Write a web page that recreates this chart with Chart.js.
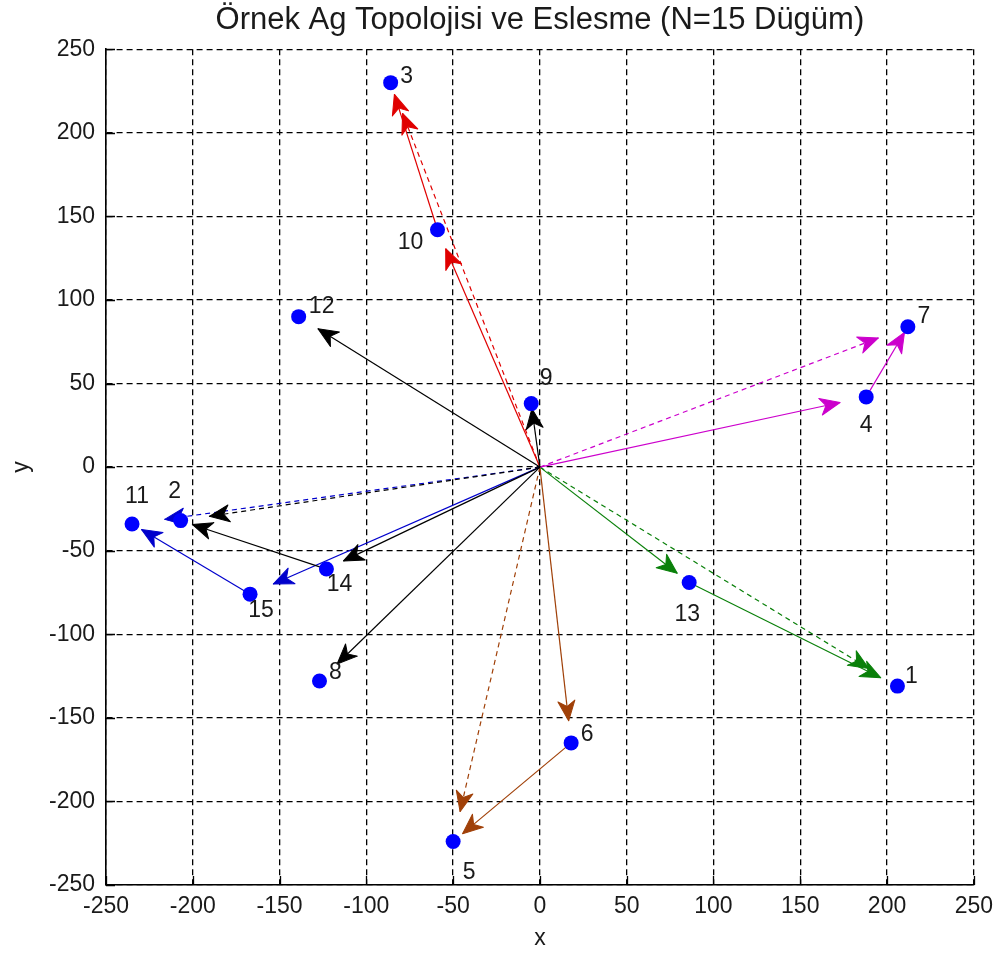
<!DOCTYPE html>
<html><head><meta charset="utf-8">
<script src="https://cdn.jsdelivr.net/npm/chart.js@4.4.0/dist/chart.umd.min.js"></script>
<style>html,body{margin:0;padding:0;background:#fff;}canvas{display:block;}</style>
</head><body>
<canvas id="c" width="1001" height="960"></canvas>
<script>
// ---- data ----
const TITLE = 'Örnek Ag Topolojisi ve Eslesme (N=15 Dügüm)';
const nodeIds = [1, 2, 3, 4, 5, 6, 7, 8, 9, 10, 11, 12, 13, 14, 15];
const nodeX = [206, -207, -86, 188, -50, 18, 212, -127, -5, -59, -235, -139, 86, -123, -167];
const nodeY = [-131, -32, 230, 42, -224, -165, 84, -128, 38, 142, -34, 90, -69, -61, -76];
const sinkX = 0, sinkY = 0;             // node id 0 = sink (origin)
const edgeFrom  = [0, 0, 0, 0, 14, 0, 15, 0, 10, 0, 4, 0, 13, 0, 6, 0, 0, 0, 0, 0, 0];
const edgeTo    = [9, 12, 14, 8, 2, 15, 11, 10, 3, 4, 7, 13, 1, 6, 5, 2, 11, 3, 7, 1, 5];
const edgeGroup = ['k','k','k','k','k','b','b','r','r','m','m','g','g','n','n','k','b','r','m','g','n'];
const edgeDashed = [0,0,0,0,0,0,0,0,0,0,0,0,0,0,0,1,1,1,1,1,1];
const xTicks = [-250, -200, -150, -100, -50, 0, 50, 100, 150, 200, 250];
const yTicks = [-250, -200, -150, -100, -50, 0, 50, 100, 150, 200, 250];
const xLabel = 'x', yLabel = 'y';

// ---- style ----
const FONT = '"Liberation Sans", Arial, Helvetica, sans-serif';
const TXT = '#1a1a1a';
const groupColor = {k:'#000000', b:'#0000cc', r:'#e00000', m:'#cc00cc', g:'#0a800a', n:'#a04008'};
const ARROW_FRAC = 0.92;
const labelOff = {
  1:[14,-9], 2:[-6,-29], 3:[16,-6], 4:[0,29], 5:[16,31], 6:[16,-8], 7:[16,-10], 8:[16,-8],
  9:[15,-25], 10:[-27,13], 11:[5,-27], 12:[23,-10], 13:[-2,32], 14:[13,16], 15:[11,17]
};

function px(id){ return id === 0 ? sinkX : nodeX[id-1]; }
function py(id){ return id === 0 ? sinkY : nodeY[id-1]; }

const datasets = [{
  label: 'nodes',
  data: nodeIds.map((id,i)=>({x:nodeX[i], y:nodeY[i]})),
  backgroundColor: '#0000ff', borderColor: '#0000ff',
  pointRadius: 7.5, pointHoverRadius: 7.5, borderWidth: 0, showLine: false
}];
edgeFrom.forEach((f,i)=>{
  const t = edgeTo[i];
  const x0 = px(f), y0 = py(f), x1 = px(t), y1 = py(t);
  const c = groupColor[edgeGroup[i]];
  datasets.push({
    label: 'e'+i, type: 'line',
    data: [{x:x0, y:y0}, {x:x0+(x1-x0)*ARROW_FRAC, y:y0+(y1-y0)*ARROW_FRAC}],
    borderColor: c, backgroundColor: c, borderWidth: 1.2,
    borderDash: edgeDashed[i] ? [5,4] : [],
    pointRadius: 0, fill: false, tension: 0, showLine: true
  });
});

const arrowPlugin = {
  id: 'arrows',
  afterDatasetDraw(chart, args){
    if (args.index === 0) return;
    const meta = args.meta;
    const p0 = meta.data[0], p1 = meta.data[1];
    const ds = chart.data.datasets[args.index];
    const ang = Math.atan2(p1.y - p0.y, p1.x - p0.x);
    const L = 20, W = 17, N = 0.72*L;
    const ctx = chart.ctx;
    ctx.save();
    ctx.translate(p1.x, p1.y); ctx.rotate(ang);
    ctx.beginPath();
    ctx.moveTo(0,0); ctx.lineTo(-L, W/2); ctx.lineTo(-N, 0); ctx.lineTo(-L, -W/2); ctx.closePath();
    ctx.fillStyle = ds.borderColor; ctx.fill();
    ctx.lineWidth = 1; ctx.strokeStyle = ds.borderColor; ctx.lineJoin = 'round'; ctx.stroke();
    ctx.restore();
  },
  afterDatasetsDraw(chart){
    const ctx = chart.ctx, xs = chart.scales.x, ys = chart.scales.y;
    ctx.save();
    ctx.font = '23px ' + FONT; ctx.fillStyle = TXT;
    ctx.textAlign = 'center'; ctx.textBaseline = 'middle';
    nodeIds.forEach((id,i)=>{
      const o = labelOff[id];
      ctx.fillText(String(id), xs.getPixelForValue(nodeX[i]) + o[0], ys.getPixelForValue(nodeY[i]) + o[1]);
    });
    ctx.restore();
  },
  afterDraw(chart){
    const ctx = chart.ctx, a = chart.chartArea, xs = chart.scales.x, ys = chart.scales.y;
    ctx.save();
    ctx.strokeStyle = '#000'; ctx.lineWidth = 1.3;
    ctx.beginPath();
    xTicks.forEach(v=>{ const x = Math.round(xs.getPixelForValue(v))+0.5; ctx.moveTo(x, a.bottom); ctx.lineTo(x, a.bottom-9); });
    yTicks.forEach(v=>{ const y = Math.round(ys.getPixelForValue(v))+0.5; ctx.moveTo(a.left, y); ctx.lineTo(a.left+9, y); });
    ctx.stroke();
    ctx.restore();
  }
};

const tickFont = {family: FONT, size: 23, weight: 'normal'};
new Chart(document.getElementById('c'), {
  type: 'scatter',
  data: {datasets},
  plugins: [arrowPlugin],
  options: {
    responsive: false, animation: false, devicePixelRatio: 1,
    layout: {padding: {left: 0, right: 26, top: 0, bottom: 0}},
    plugins: {
      legend: {display: false}, tooltip: {enabled: false},
      title: {display: true, fullSize: false, text: TITLE, color: TXT, font: {family: FONT, size: 31, weight: 'normal'}, padding: {top: 2, bottom: 10}}
    },
    scales: {
      x: {
        type: 'linear', min: -250, max: 250,
        afterBuildTicks: s => { s.ticks = xTicks.map(v=>({value:v})); },
        ticks: {font: tickFont, color: TXT, padding: 8, maxRotation: 0, autoSkip: false},
        grid: {color: '#000', lineWidth: 1.3, drawTicks: false},
        border: {display: true, color: '#000', width: 1.6, dash: [6,4]},
        title: {display: true, text: xLabel, color: TXT, font: tickFont, padding: {top: 0, bottom: 8}},
        afterFit: s => { s.height = 75; }
      },
      y: {
        type: 'linear', min: -250, max: 250,
        afterBuildTicks: s => { s.ticks = yTicks.map(v=>({value:v})); },
        ticks: {font: tickFont, color: TXT, padding: 11, autoSkip: false},
        grid: {color: '#000', lineWidth: 1.3, drawTicks: false},
        border: {display: true, color: '#000', width: 1.6, dash: [6,4]},
        title: {display: true, text: yLabel, color: TXT, font: tickFont, padding: {top: 8, bottom: 0}},
        afterFit: s => { s.width = 106; }
      }
    }
  }
});
</script>
</body></html>
